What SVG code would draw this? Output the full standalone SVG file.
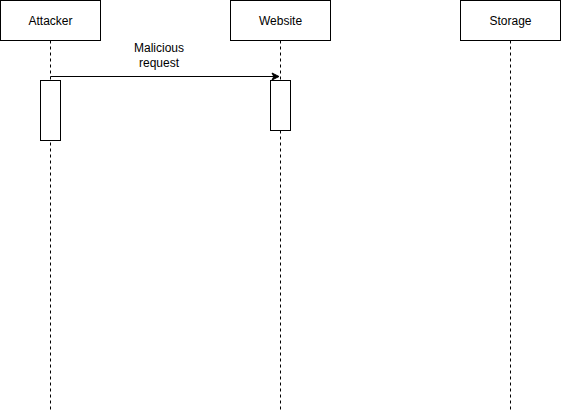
<svg xmlns="http://www.w3.org/2000/svg" width="561" height="411" viewBox="0 0 561 411">
<style>
.box{fill:#fff;stroke:#000;stroke-width:1}
.life{stroke:#000;stroke-width:1;stroke-dasharray:3,3;fill:none}
.t{font-family:"Liberation Sans",Arial,sans-serif;font-size:12px;fill:#000;text-anchor:middle}
</style>
<defs>
<marker id="arr" markerWidth="10" markerHeight="10" refX="8" refY="5" orient="auto" markerUnits="userSpaceOnUse">
<path d="M1,1.5 L8,5 L1,8.5 L2.8,5 Z" fill="#000" stroke="#000" stroke-width="1"/>
</marker>
</defs>
<g id="attacker">
<path class="life" d="M50.5,40.5 V410"/>
<rect class="box" x="0.5" y="0.5" width="100" height="40"/>
<text class="t" x="50.5" y="24.5">Attacker</text>
<rect class="box" x="40.5" y="80.5" width="20" height="60"/>
</g>
<g id="website">
<path class="life" d="M280.5,40.5 V410"/>
<rect class="box" x="230.5" y="0.5" width="100" height="40"/>
<text class="t" x="280.5" y="24.5">Website</text>
<rect class="box" x="270.5" y="80.5" width="20" height="50"/>
</g>
<g id="storage">
<path class="life" d="M510.5,40.5 V410"/>
<rect class="box" x="460.5" y="0.5" width="100" height="40"/>
<text class="t" x="510.5" y="24.5">Storage</text>
</g>
<g id="connectors">
<path d="M50.5,76.5 H279" stroke="#000" stroke-width="1" fill="none" marker-end="url(#arr)"/>
<text class="t" x="159" y="52">Malicious</text>
<text class="t" x="159" y="67">request</text>
</g>
</svg>
